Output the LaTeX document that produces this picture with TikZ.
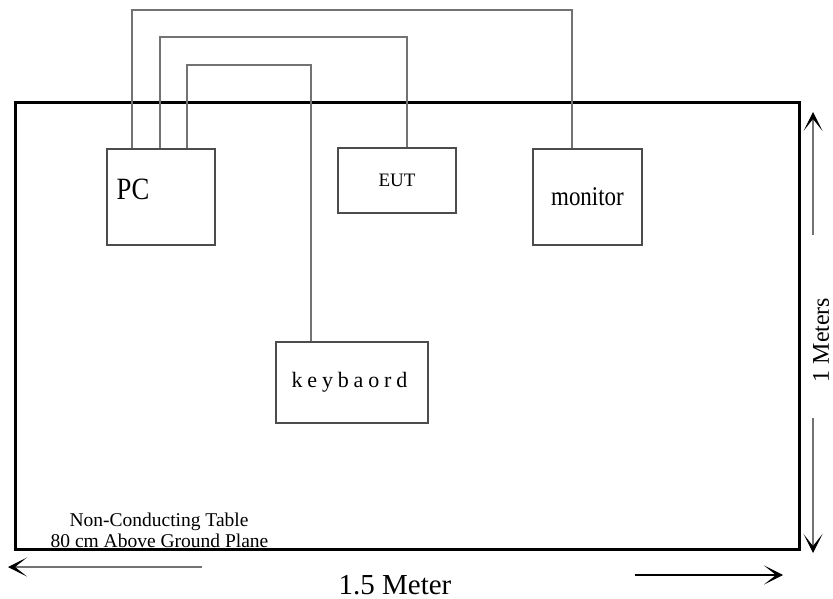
\documentclass[tikz,border=0pt]{standalone}
\usepackage{fontspec}
\setmainfont{Liberation Serif}
\usetikzlibrary{arrows.meta}
\tikzset{
  dimtip/.tip={Stealth[length=19pt,width=19pt,inset=12pt,color=black]}
}
\begin{document}
\begin{tikzpicture}[x=1pt,y=-1pt,
  table/.style={draw=black,line width=3pt},
  unit/.style={draw=black!70,line width=1.2pt,rectangle,inner sep=0pt,fill=white},
  cable/.style={draw=black!55,line width=1.1pt},
  dimline/.style={line width=1.1pt,arrows={-dimtip}},
  lbl/.style={inner sep=0pt,font=\fontsize{#1}{#1}\selectfont}]
\useasboundingbox (0,0) rectangle (833,599);

% table top
\draw[table] (15,103) rectangle (799,549);

% equipment
\node[unit,minimum width=108pt,minimum height=96pt] (pc) at (161,197) {};
\node[lbl=31,anchor=west] (pclabel) at (116.5,189) {\scalebox{0.86}[1]{PC}};
\node[unit,minimum width=118pt,minimum height=65pt] (eut) at (397,180.5) {\fontsize{19}{19}\selectfont EUT};
\node[unit,minimum width=109pt,minimum height=96pt] (monitor) at (587.5,197)
  {\fontsize{27}{27}\selectfont\scalebox{0.85}[1]{monitor}};
\node[unit,minimum width=152pt,minimum height=81pt] (kbd) at (352,382.5)
  {\hspace*{-5pt}\fontsize{22}{22}\selectfont\addfontfeature{LetterSpace=22}keybaord};

% cables from the PC
\draw[cable] ([xshift=-29pt]pc.north) -- ([xshift=-29pt]pc.north |- 0,10) -| ([xshift=-15.5pt]monitor.north);
\draw[cable] ([xshift=-1pt]pc.north) -- ([xshift=-1pt]pc.north |- 0,37) -| ([xshift=10pt]eut.north);
\draw[cable] ([xshift=26pt]pc.north) -- ([xshift=26pt]pc.north |- 0,65) -| ([xshift=-41pt]kbd.north);

% dimensions
\coordinate (wl0) at (202,567);
\coordinate (wl1) at (8,567);
\coordinate (wr0) at (635,575);
\coordinate (wr1) at (783,575);
\coordinate (hu0) at (813,235);
\coordinate (hu1) at (813,112);
\coordinate (hd0) at (813,418);
\coordinate (hd1) at (813,553);
\draw[dimline,draw=black!55] (wl0) -- (wl1);
\draw[dimline,draw=black] (wr0) -- (wr1);
\draw[dimline,draw=black!55] (hu0) -- (hu1);
\draw[dimline,draw=black!55] (hd0) -- (hd1);
\node[lbl=29] (wlabel) at (395,585) {1.5 Meter};
\node[lbl=24,rotate=90] (hlabel) at (821,340) {1 Meters};

% table caption
\node[lbl=19.5,anchor=base] (cap1) at (159,526) {Non-Conducting Table};
\node[lbl=19.5,anchor=base] (cap2) at (159.5,547.5) {80 cm Above Ground Plane};
\end{tikzpicture}
\end{document}
